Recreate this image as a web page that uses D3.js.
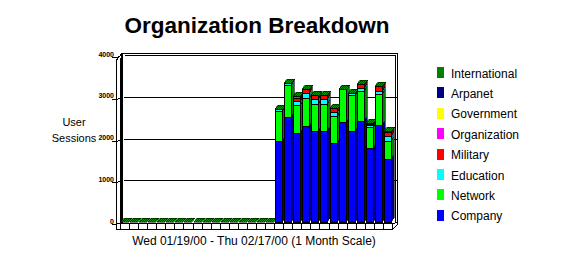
<!DOCTYPE html>
<html><head><meta charset="utf-8">
<script src="https://cdn.jsdelivr.net/npm/d3@7"></script>
<style>
html,body{margin:0;padding:0;background:#fff;}
text{font-family:Arial,"Liberation Sans",sans-serif;}
</style></head>
<body><svg id="chart" width="562" height="259"></svg>
<script>
// ---------------- data ----------------
const categories = ["01/19","01/20","01/21","01/22","01/23","01/24","01/25","01/26","01/27","01/28","01/29","01/30","01/31",
  "02/01","02/02","02/03","02/04","02/05","02/06","02/07","02/08","02/09","02/10","02/11","02/12","02/13","02/14","02/15","02/16","02/17"];
const zeros17 = [0,0,0,0,0,0,0,0,0,0,0,0,0,0,0,0,0];
const company       = zeros17.concat([1940,2507,2132,2299,2172,2172,1892,2395,2172,2412,1772,2330,1502]);
const network       = zeros17.concat([ 711, 766, 678, 671, 662, 662, 647, 798, 877, 718, 503, 728, 445]);
const education     = zeros17.concat([  63,  64,  96, 127, 105, 105,  96,   0,  48,  87,  40,  72, 113]);
const military      = zeros17.concat([   0,   0,  64,  81,  96, 110,  96,   0,   0,  96,  30, 127,  88]);
const organization  = zeros17.concat([   0,   0,  40,   0,   0,   0,   0,   0,   0,   0,  15,   0,  31]);
const government    = zeros17.concat([   0,   0,   0,   0,   0,   0,   0,   0,   0,   0,   0,   0,   0]);
const arpanet       = zeros17.concat([   0,   0,   0,   0,   0,   0,   0,   0,   0,   0,   0,   0,   0]);
const international = zeros17.concat([   0,   0,   0,   0,   0,   0,   0,   0,   0,   0,   0,   0,   0]);
const seriesNames = ["Company","Network","Education","Military","Organization","Government","Arpanet","International"];
const seriesValues = [company,network,education,military,organization,government,arpanet,international];
const yTicks = [0,1000,2000,3000,4000];
const title = "Organization Breakdown";
const xTitle = "Wed 01/19/00 - Thu 02/17/00 (1 Month Scale)";
const yTitle = ["User","Sessions"];

// ---------------- styles ----------------
const colors = {Company:"#0000ff",Network:"#00ff00",Education:"#00ffff",Military:"#ff0000",
  Organization:"#ff00ff",Government:"#ffff00",Arpanet:"#000080",International:"#008000"};
const sideColors = {Company:"#000080",Network:"#008000",Education:"#008080",Military:"#800000",
  Organization:"#800080",Government:"#808000",Arpanet:"#000040",International:"#004000"};

const svg = d3.select("#chart");
const defs = svg.append("defs");
const pat = defs.append("pattern").attr("id","dither").attr("width",2).attr("height",2)
  .attr("patternUnits","userSpaceOnUse");
pat.append("rect").attr("width",2).attr("height",2).attr("fill","#003000");
pat.append("rect").attr("width",1).attr("height",1).attr("fill","#00a000");
pat.append("rect").attr("x",1).attr("y",1).attr("width",1).attr("height",1).attr("fill","#00a000");

const g = svg.append("g").attr("shape-rendering","crispEdges");

const x = d3.scaleBand().domain(categories).range([120,392]).paddingInner(0);
const y = d3.scaleLinear().domain([0,4000]).range([222,55]);

// back wall
g.append("rect").attr("x",122.5).attr("y",y(4000)-1.5).attr("width",275).attr("height",y(0)-y(4000)+2.5)
  .attr("fill","#fff").attr("stroke","#000");
g.append("path").attr("d",`M124.5,${y(4000)+0.5}H395.5V${y(0)}`).attr("fill","none").attr("stroke","#000");
// grid lines
g.selectAll("line.grid").data(yTicks.filter(d=>d>0 && d<4000)).join("line")
  .attr("x1",124).attr("x2",397).attr("y1",d=>Math.round(y(d))+0.5).attr("y2",d=>Math.round(y(d))+0.5)
  .attr("stroke","#000");
// left wall
g.append("path").attr("d",`M116.5,229.5V${y(4000)+5}L121.5,${y(4000)-1}V223.5`).attr("fill","#fff").attr("stroke","#000");
g.append("line").attr("x1",120.5).attr("x2",120.5).attr("y1",y(4000)+3).attr("y2",229).attr("stroke","#000");
// tick connectors
g.selectAll("path.tk").data(yTicks).join("path")
  .attr("d",d=>`M112,${Math.round(y(d))+2.5}H116.5L121.5,${Math.round(y(d))+0.5}`)
  .attr("fill","none").attr("stroke","#000");
// floor front face
g.append("rect").attr("x",116.5).attr("y",223.5).attr("width",276).attr("height",6).attr("fill","#fff").attr("stroke","#000");
g.selectAll("line.ft").data(categories).join("line")
  .attr("x1",d=>Math.round(x(d))+0.5).attr("x2",d=>Math.round(x(d))+0.5).attr("y1",224).attr("y2",229)
  .attr("stroke","#000");
g.append("path").attr("d","M392.5,229.5L397.5,224.5V222.5L392.5,223.5Z").attr("fill","#fff").attr("stroke","#000");

// y labels via axis
const yAxis = d3.axisLeft(y).tickValues(yTicks).tickSize(0).tickPadding(0).tickFormat(d3.format("d"));
const ax = svg.append("g").attr("transform","translate(114,-1)").call(yAxis);
ax.select(".domain").remove();
ax.selectAll("text").attr("font-size",7).attr("font-weight","bold").attr("font-family","Arial, sans-serif").attr("dy","0.3em");

// stacked bars
const table = categories.map((c,i)=>{const o={cat:c}; seriesNames.forEach((s,k)=>o[s]=seriesValues[k][i]); return o;});
const stack = d3.stack().keys(seriesNames)(table);
const bdx = 3, bdy = 4, bw = 7;
const bars = g.append("g");
table.forEach((row,i)=>{
  const x0 = Math.round(x(row.cat))+1, x1 = x0+bw;
  const bg = bars.append("g");
  let topY = y(0);
  stack.forEach(layer=>{
    const d = layer[i];
    if (d[1]-d[0] <= 0) return;
    const yb = Math.round(y(d[0])), yt = Math.round(y(d[1]));
    if (yb-yt < 1) return;
    const s = layer.key;
    bg.append("path").attr("d",`M${x1},${yt}L${x1+bdx},${yt-bdy}V${yb-bdy}L${x1},${yb}Z`)
      .attr("fill",sideColors[s]).attr("stroke","#000").attr("stroke-width",0.6);
    bg.append("rect").attr("x",x0+0.5).attr("y",yt+0.5).attr("width",bw).attr("height",yb-yt)
      .attr("fill",colors[s]).attr("stroke","#000");
    topY = Math.min(topY,yt);
  });
  topY = Math.round(topY);
  bg.append("path").attr("d",`M${x0},${topY}L${x0+bdx},${topY-bdy}H${x1+bdx+1}L${x1+1},${topY}Z`)
    .attr("fill","url(#dither)").attr("stroke","#000").attr("stroke-width",0.5);
});

// titles
svg.append("text").attr("x",257).attr("y",33).attr("text-anchor","middle")
  .attr("font-size",22.5).attr("font-weight","bold").text(title);
svg.append("text").attr("x",254).attr("y",245).attr("text-anchor","middle").attr("font-size",12).text(xTitle);
svg.selectAll("text.yt").data(yTitle).join("text").attr("x",74).attr("y",(d,i)=>126+i*16)
  .attr("text-anchor","middle").attr("font-size",11).text(d=>d);

// legend
const legendOrder = seriesNames.slice().reverse();
const lg = svg.append("g").attr("shape-rendering","crispEdges");
lg.selectAll("rect").data(legendOrder).join("rect")
  .attr("x",437).attr("y",(d,i)=>67+i*20.4).attr("width",7).attr("height",11).attr("fill",d=>colors[d]);
lg.selectAll("text").data(legendOrder).join("text")
  .attr("x",451).attr("y",(d,i)=>77.5+i*20.4).attr("font-size",12).text(d=>d);
</script></body></html>
